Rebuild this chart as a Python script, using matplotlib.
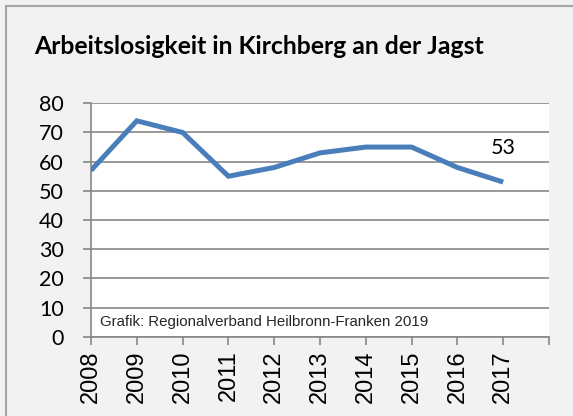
import matplotlib
matplotlib.use('Agg')
import matplotlib.pyplot as plt
from matplotlib.patches import Rectangle

# Daten
jahre = ['2008', '2009', '2010', '2011', '2012', '2013', '2014', '2015', '2016', '2017']
werte = [57, 74, 70, 55, 58, 63, 65, 65, 58, 53]
titel = 'Arbeitslosigkeit in Kirchberg an der Jagst'
quelle = 'Grafik: Regionalverband Heilbronn-Franken 2019'

grau = '#878787'
blau = '#4a7ebb'

fig = plt.figure(figsize=(5.73, 4.16), dpi=100)
fig.patch.set_facecolor('#f2f2f2')

# Rahmen um das Diagramm
fig.patches.append(Rectangle((6 / 573, -0.01), 1.0, 1 - 5.5 / 416 + 0.01,
                             transform=fig.transFigure, fill=False,
                             edgecolor='#a6a6a6', linewidth=1.5))

ax = fig.add_axes([91 / 573, 1 - 336.7 / 416, 458 / 573, 233.4 / 416])
ax.set_facecolor('white')

x = list(range(len(jahre)))
ax.plot(x, werte, color=blau, linewidth=3.6, solid_capstyle='butt',
        solid_joinstyle='miter', zorder=3)
ax.annotate(str(werte[-1]), (x[-1], werte[-1]), xytext=(0, 17),
            textcoords='offset points', ha='center', va='bottom',
            fontsize=15.5, family='Lato')

ax.set_xlim(0, len(jahre))
ax.set_ylim(0, 80)
ax.set_yticks(range(0, 81, 10))
ax.set_xticks(range(len(jahre) + 1))
ax.set_xticklabels(jahre + [''], rotation=90, family='Liberation Sans', fontsize=17)
for lab in ax.get_yticklabels():
    lab.set_family('Lato')
    lab.set_fontsize(15.5)

ax.grid(axis='y', color=grau, linewidth=1.2)
ax.set_axisbelow(True)
for s in ['top', 'right']:
    ax.spines[s].set_visible(False)
for s in ['left', 'bottom']:
    ax.spines[s].set_color(grau)
    ax.spines[s].set_linewidth(1.2)
ax.tick_params(axis='x', length=6, width=1.2, color=grau, pad=4)
ax.tick_params(axis='y', length=6, width=1.2, color=grau, pad=13.5)

ax.text(0.02, 5, quelle, fontsize=10.8, family='Liberation Sans', color='#262626',
        va='center', ha='left', transform=ax.get_yaxis_transform())

fig.text(34 / 573, 1 - 47 / 416, titel, fontsize=17.8, fontweight='bold',
         family='Lato', va='center', ha='left')

fig.savefig('out.png', dpi=100, facecolor=fig.get_facecolor())
